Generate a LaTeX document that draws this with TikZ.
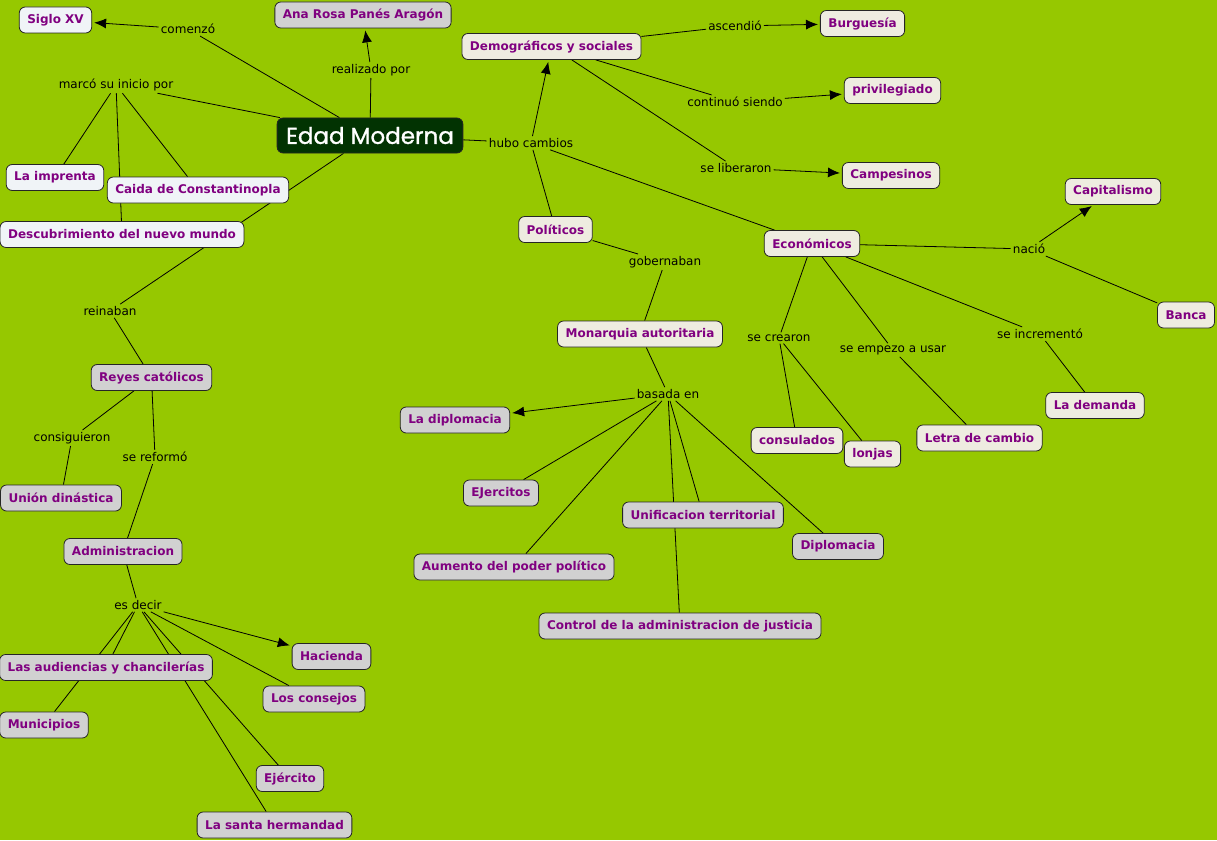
\documentclass[tikz,border=0pt]{standalone}
\usepackage{fontspec}
\setmainfont{DejaVu Sans}
\newfontfamily\titlefont[FakeBold=1.2]{Poppins}
\usetikzlibrary{arrows.meta,backgrounds}
\definecolor{cmapgreen}{RGB}{150,200,0}
\definecolor{cmapdark}{RGB}{2,51,2}
\definecolor{cmappurple}{RGB}{128,0,128}
\definecolor{boxwhite}{RGB}{240,244,247}
\definecolor{boxcream}{RGB}{238,236,224}
\definecolor{boxgray}{RGB}{209,209,209}
\tikzset{
  concept/.style = {draw=black!85, rounded corners=6pt, fill=boxgray, text=cmappurple,
                    font=\fontsize{12}{14}\selectfont\bfseries, inner xsep=8pt,
                    inner ysep=0pt, minimum height=26pt, line width=0.8pt},
  cwhite/.style  = {concept, fill=boxwhite},
  ccream/.style  = {concept, fill=boxcream},
  cgray/.style   = {concept, fill=boxgray},
  mainbox/.style = {concept, fill=cmapdark, text=white, font=\titlefont\fontsize{23}{26}\selectfont,
                    minimum height=35pt, inner xsep=9pt},
  % linking phrases: plain text, no box
  phrase/.style  = {font=\fontsize{12}{14}\selectfont, inner sep=2pt},
  link/.style    = {draw=black, line width=0.8pt},
  arr/.style     = {link, -{Latex[length=12pt,width=10pt]}, shorten >=2pt},
}

\begin{document}
\begin{tikzpicture}[x=1pt, y=-1pt]
    \useasboundingbox (0,0) rectangle (1217,840);

    \node[mainbox] (em) at (370,135.5) {Edad Moderna};

    \node[cwhite] (siglo)    at (55.5,20)    {Siglo XV};
    \node[cgray]  (autora)   at (363,15)     {Ana Rosa Panés Aragón};
    \node[cwhite] (imprenta) at (55,177.5)   {La imprenta};
    \node[cwhite] (caida)    at (198,190)    {Caida de Constantinopla};
    \node[cwhite] (descub)   at (122,234.5)  {Descubrimiento del nuevo mundo};

    \node[ccream] (demog)   at (551.5,46.5)  {Demográficos y sociales};
    \node[ccream] (burg)    at (862.5,23.5)  {Burguesía};
    \node[ccream] (priv)    at (892.5,90.5)  {privilegiado};
    \node[ccream] (camp)    at (891,175.5)   {Campesinos};
    \node[ccream] (polit)   at (555.5,229.5) {Políticos};
    \node[ccream] (econ)    at (812,243.5)   {Económicos};
    \node[ccream] (capit)   at (1113,191.5)  {Capitalismo};
    \node[ccream] (banca)   at (1186,315)    {Banca};
    \node[ccream] (demanda) at (1095,405.5)  {La demanda};
    \node[ccream] (letra)   at (979.5,438)   {Letra de cambio};
    \node[ccream] (consul)  at (797,440.5)   {consulados};
    \node[ccream] (lonjas)  at (872.5,454)   {lonjas};
    \node[ccream] (monarq)  at (640,334)     {Monarquia autoritaria};

    \node[cgray] (ladipl)    at (455,420)    {La diplomacia};
    \node[cgray] (ejercitos) at (501,493)    {EJercitos};
    \node[cgray] (unif)      at (703,515)    {Unificacion territorial};
    \node[cgray] (diplo)     at (838,546.5)  {Diplomacia};
    \node[cgray] (aumento)   at (514,567)    {Aumento del poder político};
    \node[cgray] (control)   at (680,626)    {Control de la administracion de justicia};

    \node[cgray] (reyes)    at (151.5,377.5) {Reyes católicos};
    \node[cgray] (union)    at (61,498)      {Unión dinástica};
    \node[cgray] (admin)    at (123,551.5)   {Administracion};
    \node[cgray] (audien)   at (106,667.5)   {Las audiencias y chancilerías};
    \node[cgray] (hacienda) at (331.5,656.5) {Hacienda};
    \node[cgray] (consejos) at (314,699)     {Los consejos};
    \node[cgray] (munic)    at (44,725)      {Municipios};
    \node[cgray] (ejercito) at (290,778.5)   {Ejército};
    \node[cgray] (herman)   at (274.5,825)   {La santa hermandad};

    \node[phrase] (comenzo)  at (188,29)   {comenzó};
    \node[phrase] (marco)    at (116,85)   {marcó su inicio por};
    \node[phrase] (realiz)   at (371,70)   {realizado por};
    \node[phrase] (hubo)     at (531,143)  {hubo cambios};
    \node[phrase] (ascend)   at (735,26)   {ascendió};
    \node[phrase] (contin)   at (735,102)  {continuó siendo};
    \node[phrase] (libera)   at (736,168)  {se liberaron};
    \node[phrase] (gobern)   at (665,262)  {gobernaban};
    \node[phrase] (nacio)    at (1029,249) {nació};
    \node[phrase] (crearon)  at (779,338)  {se crearon};
    \node[phrase] (empezo)   at (893,350)  {se empezo a usar};
    \node[phrase] (increm)   at (1040,334) {se incrementó};
    \node[phrase] (basada)   at (668,394)  {basada en};
    \node[phrase] (reinaban) at (110,311)  {reinaban};
    \node[phrase] (consig)   at (72,438)   {consiguieron};
    \node[phrase] (reformo)  at (155,457)  {se reformó};
    \node[phrase] (esdecir)  at (138,605)  {es decir};

    \begin{scope}[on background layer]
    \fill[cmapgreen] (0,0) rectangle (1217,840);

    \draw[link] (em) -- (comenzo);
    \draw[arr]  (comenzo) -- (siglo);
    \draw[link] (em) -- (realiz);
    \draw[arr]  (realiz) -- (autora);
    \draw[link] (em) -- (marco);
    \draw[link] (marco) -- (imprenta);
    \draw[link] (marco) -- (caida);
    \draw[link] (marco) -- (descub);
    \draw[link] (em) -- (reinaban);
    \draw[link] (reinaban) -- (reyes);
    \draw[link] (em) -- (hubo);
    \draw[arr]  (hubo) -- (demog);
    \draw[link] (hubo) -- (polit);
    \draw[link] (hubo) -- (econ);

    \draw[link] (demog) -- (ascend);
    \draw[arr]  (ascend) -- (burg);
    \draw[link] (demog) -- (contin);
    \draw[arr]  (contin) -- (priv);
    \draw[link] (demog) -- (libera);
    \draw[arr]  (libera) -- (camp);

    \draw[link] (polit) -- (gobern);
    \draw[link] (gobern) -- (monarq);
    \draw[link] (monarq) -- (basada);
    \draw[arr]  (basada) -- (ladipl);
    \draw[link] (basada) -- (ejercitos);
    \draw[link] (basada) -- (aumento);
    \draw[link] (basada) -- (unif);
    \draw[link] (basada) -- (control);
    \draw[link] (basada) -- (diplo);

    \draw[link] (econ) -- (nacio);
    \draw[arr]  (nacio) -- (capit);
    \draw[link] (nacio) -- (banca);
    \draw[link] (econ) -- (crearon);
    \draw[link] (crearon) -- (consul);
    \draw[link] (crearon) -- (lonjas);
    \draw[link] (econ) -- (empezo);
    \draw[link] (empezo) -- (letra);
    \draw[link] (econ) -- (increm);
    \draw[link] (increm) -- (demanda);

    \draw[link] (reyes) -- (consig);
    \draw[link] (consig) -- (union);
    \draw[link] (reyes) -- (reformo);
    \draw[link] (reformo) -- (admin);
    \draw[link] (admin) -- (esdecir);
    \draw[arr]  (esdecir) -- (hacienda);
    \draw[link] (esdecir) -- (consejos);
    \draw[link] (esdecir) -- (audien);
    \draw[link] (esdecir) -- (munic);
    \draw[link] (esdecir) -- (ejercito);
    \draw[link] (esdecir) -- (herman);
    \end{scope}
  \end{tikzpicture}
\end{document}
